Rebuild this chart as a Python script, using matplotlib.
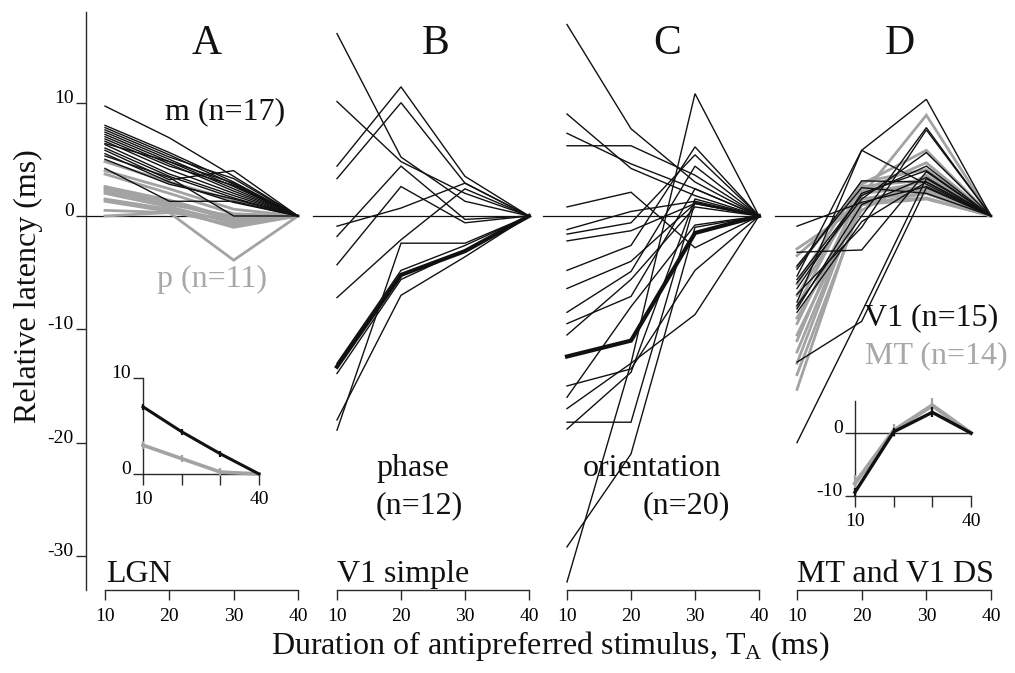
import matplotlib
matplotlib.use("Agg")
import matplotlib.pyplot as plt

plt.rcParams['font.family'] = ['Liberation Serif', 'DejaVu Serif']
plt.rcParams['mathtext.fontset'] = 'custom'
plt.rcParams['mathtext.rm'] = 'Liberation Serif'

# ---------------- data (relative latency, ms) ----------------
durations = [10, 20, 30, 40]

lgn_m = [
    [9.7, 6.9, 3.5, 0], [8.0, 5.6, 3.0, 0], [7.8, 5.4, 2.8, 0],
    [7.6, 5.2, 3.3, 0], [7.4, 5.0, 2.6, 0], [7.2, 4.8, 2.4, 0],
    [7.0, 4.6, 2.2, 0], [6.8, 4.4, 2.7, 0], [6.6, 4.1, 2.0, 0],
    [6.3, 3.7, 1.8, 0], [6.0, 3.5, 1.6, 0], [5.8, 3.2, 4.0, 0],
    [5.5, 3.0, 1.2, 0], [5.3, 3.4, 0.0, 0], [5.0, 2.8, 1.5, 0],
    [4.2, 1.3, 1.3, 0], [6.4, 4.8, 2.9, 0],
]
lgn_p = [
    [4.8, 3.0, 1.4, 0], [4.0, 2.4, 0.6, 0], [3.7, 2.0, 0.2, 0],
    [2.6, 1.4, -0.2, 0], [2.4, 1.2, -0.4, 0], [2.2, 1.0, 0.0, 0],
    [2.0, 0.8, -0.6, 0], [1.5, 0.6, -1.0, 0], [1.3, 0.4, -0.8, 0],
    [0.5, 0.3, -0.3, 0], [0.0, 0.3, -3.9, 0],
]

v1_phase = [
    [16.1, 5.2, 1.3, 0], [10.1, 4.8, 2.0, 0], [4.4, 11.4, 3.5, 0],
    [3.3, 10.0, 2.9, 0], [-0.9, 0.7, 2.9, 0], [-1.8, 4.4, -0.3, 0],
    [-4.3, 2.6, -0.6, 0], [-7.2, -2.1, 2.4, 0], [-13.9, -5.6, -3.0, 0],
    [-18.0, -7.0, -3.6, 0], [-18.9, -2.4, -2.4, 0], [-13.0, -4.8, -2.6, 0],
]
v1_phase_highlight = [-13.3, -5.2, -3.1, 0]

v1_orient = [
    [16.9, 7.7, 3.0, 0], [9.0, 4.2, 1.8, 0], [7.3, 4.6, 2.4, 0],
    [6.2, 6.2, 3.6, 0], [0.8, 2.1, -2.8, 0], [-1.2, 0.4, 1.3, 0],
    [-1.6, -0.6, 5.4, 0], [-2.2, -1.3, 1.1, 0], [-4.8, -2.6, 6.1, 0],
    [-6.4, -4.0, 1.1, 0], [-8.5, -4.9, 4.4, 0], [-9.5, -7.1, 2.4, 0],
    [-10.5, -5.6, 0.8, 0], [-15.0, -13.5, -4.8, 0], [-17.0, -13.0, -8.7, 0],
    [-18.2, -18.2, 1.2, 0], [-18.8, -13.8, 1.5, 0], [-16.0, -8.0, -0.8, 0],
    [-29.2, -21.0, -1.0, 0], [-32.3, -13.0, 10.8, 0],
]
v1_orient_highlight = [-12.4, -11.0, -1.5, 0]

ds_v1 = [
    [-5.3, 5.8, 10.3, 0], [-7.6, 5.8, 2.8, 0], [-7.9, 0.0, 7.8, 0],
    [-6.9, -1.0, 7.6, 0], [-20.0, -8.5, 3.3, 0], [-4.7, 3.1, 3.0, 0],
    [-0.9, 1.2, 2.6, 0], [-3.2, -3.0, 3.9, 0], [-12.9, -9.3, 2.5, 0],
    [-5.9, 1.5, 5.6, 0], [-6.4, 2.0, 4.0, 0], [-8.2, 1.0, 3.4, 0],
    [-4.4, 2.5, 2.0, 0], [-5.6, 1.8, 4.4, 0], [-8.5, -0.5, 3.0, 0],
]
ds_mt = [
    [-15.3, 1.5, 2.4, 0], [-14.0, 1.0, 2.0, 0], [-13.0, 2.0, 3.0, 0],
    [-12.0, 1.8, 8.9, 0], [-11.0, 2.5, 2.2, 0], [-10.5, 1.2, 1.6, 0],
    [-9.5, 2.2, 4.7, 0], [-9.0, 0.5, 3.6, 0], [-8.0, 2.8, 5.8, 0],
    [-7.0, 2.0, 2.6, 0], [-6.0, 3.0, 4.1, 0], [-4.5, 2.6, 3.2, 0],
    [-3.5, 1.5, 2.0, 0], [-2.9, 1.0, 1.5, 0],
]

# population means with error bars (insets)
lgn_m_mean = [7.0, 4.4, 2.1, 0.0]
lgn_m_err = [0.3, 0.3, 0.3, 0.0]
lgn_p_mean = [3.0, 1.6, 0.2, 0.0]
lgn_p_err = [0.4, 0.4, 0.4, 0.0]
ds_v1_mean = [-9.4, 0.2, 3.3, 0.0]
ds_v1_err = [0.6, 0.6, 0.8, 0.0]
ds_mt_mean = [-8.0, 0.4, 4.4, 0.0]
ds_mt_err = [1.3, 1.0, 1.2, 0.0]

main_yticks = [-30, -20, -10, 0, 10]
main_xticks = [10, 20, 30, 40]

# ---------------- layout helpers (pixel boxes, y measured from top) ----------------
W, H = 1015, 673
fig = plt.figure(figsize=(W / 100, H / 100), dpi=100)

BLACK = '#111111'
GREY = '#a3a3a3'
GREY_TXT = '#a8a8a8'
AXC = '#2a2a2a'
TICK_FS = 14

YMIN, YMAX = -33, 18
Y0_PX, Y_SCALE = 216, 11.33
TOP_PX = Y0_PX - YMAX * Y_SCALE
BOT_PX = Y0_PX - YMIN * Y_SCALE


def ftext(x, y, s, **kw):
    return fig.text(x / W, 1 - y / H, s, **kw)


def panel_axes(px10, px40, xmin, xmax=41.5):
    s = (px40 - px10) / 30.0
    left = px10 - (10 - xmin) * s
    right = px10 + (xmax - 10) * s
    ax = fig.add_axes([left / W, 1 - BOT_PX / H, (right - left) / W,
                       (BOT_PX - TOP_PX) / H])
    ax.set_xlim(xmin, xmax)
    ax.set_ylim(YMIN, YMAX)
    ax.patch.set_visible(False)
    for side in ('top', 'right', 'left'):
        ax.spines[side].set_visible(False)
    ax.spines['bottom'].set_bounds(10, 40)
    ax.spines['bottom'].set_color(AXC)
    ax.spines['bottom'].set_linewidth(1.0)
    ax.set_xticks(main_xticks)
    ax.set_xticklabels([str(t) for t in main_xticks])
    ax.tick_params(axis='x', direction='out', length=7, width=1.0,
                   color=AXC, labelsize=TICK_FS, pad=6)
    ax.set_yticks([])
    return ax


def draw_lines(ax, rows, color, lw, z=2):
    for r in rows:
        ax.plot(durations, r, color=color, lw=lw, solid_joinstyle='miter',
                zorder=z, clip_on=False)


# ---------------- panel A : LGN ----------------
axA = panel_axes(105, 298, 7.05)
axA.spines['left'].set_visible(True)
axA.spines['left'].set_color(AXC)
axA.spines['left'].set_linewidth(1.0)
axA.set_yticks(main_yticks)
axA.set_yticklabels([str(t) for t in main_yticks])
axA.tick_params(axis='y', direction='out', length=7, width=1.0, color=AXC,
                labelsize=TICK_FS, pad=2)
for lab in axA.get_yticklabels():
    lab.set_verticalalignment('baseline')
axA.plot([7.05, 40], [0, 0], color=BLACK, lw=0.9, zorder=1)
draw_lines(axA, lgn_p, GREY, 2.0, z=2)
draw_lines(axA, lgn_m, BLACK, 1.0, z=3)

# ---------------- panel B : V1 simple, phase ----------------
axB = panel_axes(337, 529, 6.0)
axB.plot([6.25, 40], [0, 0], color=BLACK, lw=0.9, zorder=1)
draw_lines(axB, v1_phase, BLACK, 1.0)
axB.plot(durations, v1_phase_highlight, color=BLACK, lw=3.0, zorder=4)

# ---------------- panel C : V1 simple, orientation ----------------
axC = panel_axes(567, 759, 6.0)
axC.plot([6.25, 40], [0, 0], color=BLACK, lw=0.9, zorder=1)
draw_lines(axC, v1_orient, BLACK, 1.0)
axC.plot(durations, v1_orient_highlight, color=BLACK, lw=3.0, zorder=4)

# ---------------- panel D : MT and V1 direction selective ----------------
axD = panel_axes(797, 991, 6.0)
axD.plot([6.6, 40], [0, 0], color=BLACK, lw=0.9, zorder=1)
draw_lines(axD, ds_mt, GREY, 2.0, z=2)
draw_lines(axD, ds_v1, BLACK, 1.0, z=3)

# ---------------- insets ----------------
def inset_axes(px10, px40, y_top_px, y_bot_px):
    return fig.add_axes([px10 / W, 1 - y_bot_px / H, (px40 - px10) / W,
                         (y_bot_px - y_top_px) / H])


def style_inset(ax, yticks):
    ax.patch.set_visible(False)
    for side in ('top', 'right'):
        ax.spines[side].set_visible(False)
    for side in ('left', 'bottom'):
        ax.spines[side].set_color(AXC)
        ax.spines[side].set_linewidth(1.0)
    ax.spines['bottom'].set_bounds(10, 40)
    ax.set_xticks(main_xticks)
    ax.set_xticklabels(['10', '', '', '40'])
    ax.set_yticks(yticks)
    ax.set_yticklabels([str(t) for t in yticks])
    ax.tick_params(direction='out', length=8, width=1.0, color=AXC,
                   labelsize=TICK_FS)
    ax.tick_params(axis='y', length=7, pad=2)
    ax.tick_params(axis='x', pad=4)
    for lab in ax.get_yticklabels():
        lab.set_verticalalignment('baseline')


# LGN inset: 0 -> 474 px, 10 -> 378 px
insA = inset_axes(143, 259, 378, 487.4)
insA.set_xlim(10, 40)
insA.set_ylim(-1.4, 10)
style_inset(insA, [0, 10])
insA.spines['bottom'].set_position(('data', 0))
insA.spines['left'].set_bounds(0, 10)
insA.errorbar(durations, lgn_p_mean, yerr=lgn_p_err, color=GREY, lw=2.6,
              elinewidth=1.6, capsize=0, clip_on=False, zorder=3)
insA.errorbar(durations, lgn_m_mean, yerr=lgn_m_err, color=BLACK, lw=2.2,
              elinewidth=1.6, capsize=0, clip_on=False, zorder=4)

# direction-selective inset: 0 -> 433 px, -10 -> 496 px
insD = inset_axes(855, 971, 401, 496)
insD.set_xlim(10, 40)
insD.set_ylim(-10, 5.1)
style_inset(insD, [-10, 0])
insD.plot([10, 40], [0, 0], color=AXC, lw=1.0, zorder=1, clip_on=False)
insD.errorbar(durations, ds_mt_mean, yerr=ds_mt_err, color=GREY, lw=3.0,
              elinewidth=1.6, capsize=0, clip_on=False, zorder=3)
insD.errorbar(durations, ds_v1_mean, yerr=ds_v1_err, color=BLACK, lw=2.4,
              elinewidth=1.6, capsize=0, clip_on=False, zorder=4)

# ---------------- text ----------------
for letter, x in (('A', 207), ('B', 436), ('C', 667), ('D', 900)):
    ftext(x, 54, letter, fontsize=30, ha='center', va='baseline', color=BLACK)

ANN = 23
ftext(165, 119, 'm (n=17)', fontsize=ANN, ha='left', va='baseline', color=BLACK)
ftext(157, 287, 'p (n=11)', fontsize=ANN, ha='left', va='baseline', color=GREY_TXT)
ftext(376, 476, 'phase', fontsize=ANN, ha='left', va='baseline', color=BLACK)
ftext(376, 513, '(n=12)', fontsize=ANN, ha='left', va='baseline', color=BLACK)
ftext(583, 476, 'orientation', fontsize=ANN, ha='left', va='baseline', color=BLACK)
ftext(643, 513, '(n=20)', fontsize=ANN, ha='left', va='baseline', color=BLACK)
ftext(864, 325, 'V1 (n=15)', fontsize=ANN, ha='left', va='baseline', color=BLACK)
ftext(865, 363, 'MT (n=14)', fontsize=ANN, ha='left', va='baseline', color=GREY_TXT)

ftext(106, 582, 'LGN', fontsize=ANN, ha='left', va='baseline', color=BLACK)
ftext(337, 582, 'V1 simple', fontsize=ANN, ha='left', va='baseline', color=BLACK)
ftext(797, 582, 'MT and V1 DS', fontsize=ANN, ha='left', va='baseline', color=BLACK)

ftext(28, 286, 'Relative latency (ms)', fontsize=ANN, rotation=90,
      ha='center', va='center', color=BLACK)
ftext(550, 646, r'Duration of antipreferred stimulus, T$_\mathregular{A}$ (ms)',
      fontsize=ANN, ha='center', va='center', color=BLACK)

fig.savefig('out.png', dpi=100)
